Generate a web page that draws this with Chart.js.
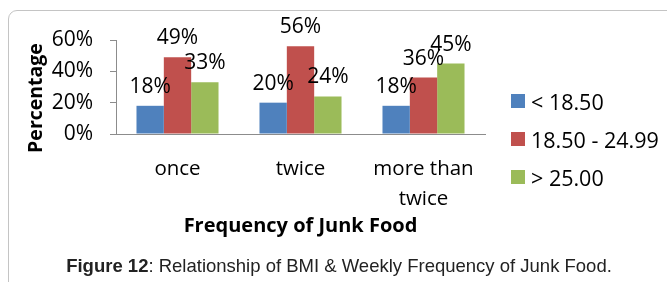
<!DOCTYPE html>
<html>
<head>
<meta charset="utf-8">
<script src="https://cdn.jsdelivr.net/npm/chart.js@4.4.0/dist/chart.umd.min.js"></script>
<style>
  html, body { margin: 0; padding: 0; background: #fff; }
  #wrap { position: relative; width: 667px; height: 282px; overflow: hidden; }
  #frame {
    position: absolute; left: 8px; top: 10px; width: 720px; height: 320px;
    border: 1px solid #c4c4c4; border-radius: 9px; box-sizing: border-box;
  }
  #chart { position: absolute; left: 0; top: 0; }
  #legend { position: absolute; left: 511px; top: 82px; font: 21.5px "Open Sans", sans-serif; color: #000; }
  .item { height: 38px; display: flex; align-items: center; white-space: nowrap; }
  .sw { width: 14px; height: 14px; margin-right: 6px; flex: none; }
  #caption {
    position: absolute; left: 0; width: 678px; top: 255px; text-align: center;
    font: 18.5px "Liberation Sans", Arial, sans-serif; color: #222;
  }
</style>
</head>
<body>
<div id="wrap">
  <div id="frame"></div>
  <canvas id="chart" width="667" height="282"></canvas>
  <div id="legend"></div>
  <div id="caption"><b>Figure 12</b>: Relationship of BMI &amp; Weekly Frequency of Junk Food.</div>
</div>
<script>
// Data (percent of respondents)
const categories = ["once", "twice", ["more than", "twice"]];
const seriesNames = ["< 18.50", "18.50 - 24.99", "> 25.00"];
const under185 = [18, 20, 18];
const normal = [49, 56, 36];
const over25 = [33, 24, 45];
const colors = ["#4F81BD", "#C0504D", "#9BBB59"];
const yTicks = [0, 20, 40, 60];

const FONT = '"Open Sans", sans-serif';

// value labels above each bar
const barLabels = {
  id: "barLabels",
  afterDatasetsDraw(chart) {
    const ctx = chart.ctx;
    ctx.save();
    ctx.font = "21px " + FONT;
    ctx.fillStyle = "#000";
    ctx.textAlign = "center";
    ctx.textBaseline = "alphabetic";
    chart.data.datasets.forEach((ds, i) => {
      chart.getDatasetMeta(i).data.forEach((bar, j) => {
        ctx.fillText(ds.data[j] + "%", bar.x, bar.y - 13);
      });
    });
    ctx.restore();
  }
};

// axis titles
const axisTitles = {
  id: "axisTitles",
  afterDraw(chart) {
    const ctx = chart.ctx;
    const a = chart.chartArea;
    ctx.save();
    ctx.fillStyle = "#000";
    ctx.textAlign = "center";
    ctx.textBaseline = "alphabetic";
    ctx.font = "bold 20px " + FONT;
    ctx.fillText("Frequency of Junk Food", (a.left + a.right) / 2, a.bottom + 98);
    ctx.font = "bold 19.5px " + FONT;
    ctx.textBaseline = "middle";
    ctx.translate(36, a.top + 58);
    ctx.rotate(-Math.PI / 2);
    ctx.fillText("Percentage", 0, 0);
    ctx.restore();
  }
};

const chart = new Chart(document.getElementById("chart"), {
  type: "bar",
  data: {
    labels: categories,
    datasets: [
      { label: seriesNames[0], data: under185, backgroundColor: colors[0] },
      { label: seriesNames[1], data: normal, backgroundColor: colors[1] },
      { label: seriesNames[2], data: over25, backgroundColor: colors[2] },
    ]
  },
  options: {
    responsive: false,
    animation: false,
    layout: { padding: { top: 40, right: 182, left: 0, bottom: 0 } },
    datasets: { bar: { barPercentage: 1, categoryPercentage: 0.667, borderWidth: 0 } },
    plugins: { legend: { display: false }, tooltip: { enabled: false } },
    scales: {
      x: {
        afterFit: s => { s.height = 148; },
        grid: { display: false },
        border: { display: true, color: "#8c8c8c", width: 1 },
        ticks: { color: "#000", font: { family: FONT, size: 20.5, lineHeight: 1.46 }, padding: 12, maxRotation: 0 }
      },
      y: {
        min: 0, max: 60,
        afterFit: s => { s.width = 116; },
        afterBuildTicks: s => { s.ticks = yTicks.map(v => ({ value: v })); },
        grid: { drawOnChartArea: false, drawTicks: true, tickLength: 6, color: "#8c8c8c" },
        border: { display: true, color: "#8c8c8c", width: 1 },
        ticks: { color: "#000", font: { family: FONT, size: 21 }, padding: 17, callback: v => v + "%" }
      }
    }
  },
  plugins: [barLabels, axisTitles]
});

// legend
const legend = document.getElementById("legend");
seriesNames.forEach((name, i) => {
  const row = document.createElement("div");
  row.className = "item";
  const sw = document.createElement("div");
  sw.className = "sw";
  sw.style.background = colors[i];
  const t = document.createElement("span");
  t.textContent = name;
  row.appendChild(sw);
  row.appendChild(t);
  legend.appendChild(row);
});
</script>
</body>
</html>
